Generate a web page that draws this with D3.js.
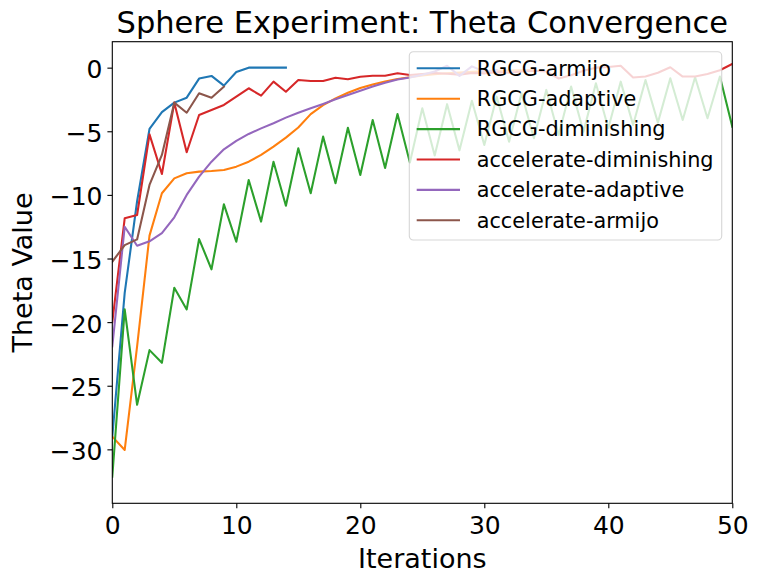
<!DOCTYPE html>
<html>
<head>
<meta charset="utf-8">
<script src="https://cdn.jsdelivr.net/npm/d3@7"></script>
<style>
  html, body { margin: 0; padding: 0; background: #fff; }
  svg { display: block; font-family: "DejaVu Sans", sans-serif; }
</style>
</head>
<body>
<div id="chart"></div>
<script>
// theta per iteration
const rgcgArmijo = [-29.0, -17.7, -10.5, -4.82, -3.5, -2.75, -2.36, -0.86, -0.65, -1.41,
    -0.34, 0.0, 0.0, 0.0, 0.0];

const rgcgAdaptive = [-29.0, -30.05, -21.9, -13.2, -9.87, -8.7, -8.3, -8.17, -8.12, -8.04,
    -7.78, -7.39, -6.86, -6.2, -5.5, -4.7, -3.65, -2.95, -2.42, -1.97,
    -1.6, -1.33, -1.08, -0.89, -0.75, -0.62, -0.52, -0.44, -0.38, -0.33,
    -0.29, -0.25, -0.22, -0.2, -0.18];

const rgcgDiminishing = [-32.15, -19.0, -26.5, -22.2, -23.2, -17.3, -19.0, -13.47, -15.85, -10.74,
    -13.68, -8.83, -12.1, -7.39, -10.85, -6.34, -9.87, -5.42, -9.09, -4.72,
    -8.44, -4.11, -7.88, -3.65, -7.45, -3.19, -6.9, -2.87, -6.5, -2.6,
    -6.08, -2.28, -5.82, -2.01, -5.55, -1.75, -5.29, -1.49, -5.03, -1.23,
    -4.76, -1.1, -4.5, -0.97, -4.32, -0.83, -4.11, -0.75, -3.98, -0.7,
    -4.64];

const accDiminishing = [-20.0, -11.84, -11.58, -5.24, -8.36, -2.75, -6.65, -3.72, -3.33, -2.93,
    -2.28, -1.62, -2.2, -1.1, -1.89, -0.97, -1.05, -1.05, -0.79, -0.91,
    -0.71, -0.63, -0.63, -0.44, -0.58, -0.5, -0.42, -0.48, -0.55, -0.42,
    -0.45, -0.35, -0.4, -0.3, -0.25, -0.3, -0.85, -0.6, -0.25, 0.0,
    0.05, 0.15, -0.78, -0.7, -0.4, 0.03, -0.7, -0.7, -0.5, -0.2,
    0.3];

const accAdaptive = [-21.9, -12.5, -14.0, -13.65, -13.0, -11.76, -10.0, -8.57, -7.39, -6.42,
    -5.76, -5.21, -4.77, -4.37, -3.93, -3.54, -3.19, -2.85, -2.49, -2.15,
    -1.81, -1.49, -1.18, -0.93, -0.78, -0.55, -0.3, 0.15, -0.65, 0.1,
    -0.3, -0.2];

const accArmijo = [-15.25, -13.95, -13.5, -9.22, -6.86, -2.75, -3.54, -2.01, -2.36, -1.49];

const seriesNames = ["RGCG-armijo", "RGCG-adaptive", "RGCG-diminishing",
    "accelerate-diminishing", "accelerate-adaptive", "accelerate-armijo"];
const seriesValues = [rgcgArmijo, rgcgAdaptive, rgcgDiminishing,
    accDiminishing, accAdaptive, accArmijo];
const seriesColors = ["#1f77b4", "#ff7f0e", "#2ca02c", "#d62728", "#9467bd", "#8c564b"];

const xTicks = [0, 10, 20, 30, 40, 50];
const yTicks = [0, -5, -10, -15, -20, -25, -30];

/* ---------------------------------------------- /*
 * Layout
 /* ---------------------------------------------- */
const W = 759, H = 584;
const margin = {top: 41.7, right: 26.7, bottom: 80.7, left: 112.3};
const width = W - margin.left - margin.right;
const height = H - margin.top - margin.bottom;

const svg = d3.select("#chart")
    .append("svg")
    .attr("width", W)
    .attr("height", H);

svg.append("rect").attr("width", W).attr("height", H).attr("fill", "#fff");

const g = svg.append("g")
    .attr("transform", `translate(${margin.left},${margin.top})`);

const x = d3.scaleLinear().domain([0, 50]).range([0, width]);
const y = d3.scaleLinear().domain([-34.24, 2.04]).range([height, 0]);

g.append("clipPath").attr("id", "clip")
    .append("rect").attr("width", width).attr("height", height);

/* ---------------------------------------------- /*
 * Lines
 /* ---------------------------------------------- */
const line = d3.line()
    .x((d, i) => x(i))
    .y(d => y(d));

g.append("g")
    .attr("clip-path", "url(#clip)")
    .selectAll("path")
    .data(seriesValues)
    .enter()
    .append("path")
    .attr("d", d => line(d))
    .attr("fill", "none")
    .attr("stroke", (d, i) => seriesColors[i])
    .attr("stroke-width", 2.08)
    .attr("stroke-linejoin", "round")
    .attr("stroke-linecap", "square");

/* ---------------------------------------------- /*
 * Axes
 /* ---------------------------------------------- */
const xAxis = g.append("g")
    .attr("transform", `translate(0,${height})`)
    .call(d3.axisBottom(x).tickValues(xTicks).tickSize(4.9).tickPadding(0).tickFormat(d3.format("d")));

const yAxis = g.append("g")
    .call(d3.axisLeft(y).tickValues(yTicks).tickSize(4.9).tickPadding(4.9)
        .tickFormat(d => d < 0 ? "\u2212" + Math.abs(d) : d));

[xAxis, yAxis].forEach(a => {
    a.select(".domain").remove();
    a.selectAll(".tick line").attr("stroke", "#000").attr("stroke-width", 1.1);
    a.selectAll(".tick text")
        .attr("fill", "#000")
        .attr("font-family", "DejaVu Sans")
        .attr("font-size", "25px");
});

xAxis.selectAll(".tick text").attr("dy", null).attr("y", 30.7);
yAxis.selectAll(".tick text").attr("dy", null).attr("y", 10);

// axes frame
g.append("rect")
    .attr("width", width)
    .attr("height", height)
    .attr("fill", "none")
    .attr("stroke", "#000")
    .attr("stroke-width", 1.1);

/* ---------------------------------------------- /*
 * Titles
 /* ---------------------------------------------- */
svg.append("text")
    .attr("x", margin.left + width / 2)
    .attr("y", 33.4)
    .attr("text-anchor", "middle")
    .attr("font-size", "30.5px")
    .text("Sphere Experiment: Theta Convergence");

svg.append("text")
    .attr("x", margin.left + width / 2)
    .attr("y", 568.3)
    .attr("text-anchor", "middle")
    .attr("font-size", "27px")
    .text("Iterations");

svg.append("text")
    .attr("transform", `translate(32,${margin.top + height / 2}) rotate(-90)`)
    .attr("text-anchor", "middle")
    .attr("font-size", "27px")
    .text("Theta Value");

/* ---------------------------------------------- /*
 * Legend
 /* ---------------------------------------------- */
const legend = svg.append("g").attr("transform", "translate(409.3,51.7)");

legend.append("rect")
    .attr("width", 312.4)
    .attr("height", 188.3)
    .attr("rx", 4)
    .attr("fill", "rgba(255,255,255,0.8)")
    .attr("stroke", "rgba(204,204,204,0.8)")
    .attr("stroke-width", 1.1);

const item = legend.selectAll(".item")
    .data(seriesNames)
    .enter()
    .append("g")
    .attr("class", "item")
    .attr("transform", (d, i) => `translate(0,${16.6 + i * 30.4})`);

item.append("line")
    .attr("x1", 7.4).attr("x2", 50.7)
    .attr("stroke", (d, i) => seriesColors[i])
    .attr("stroke-width", 2.08);

item.append("text")
    .attr("x", 67.4)
    .attr("y", 7.3)
    .attr("font-size", "20.8px")
    .text(d => d);
</script>
</body>
</html>
